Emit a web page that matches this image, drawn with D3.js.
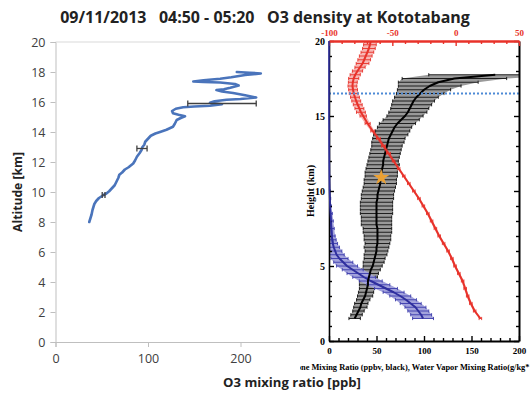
<!DOCTYPE html>
<html><head><meta charset="utf-8">
<script src="https://cdn.jsdelivr.net/npm/d3@7"></script>
<style>body{margin:0;background:#fff} svg{display:block}</style>
</head><body><svg id="c" width="530" height="393"></svg>
<script>
// ---------- DATA ----------
const title = "09/11/2013   04:50 - 05:20   O3 density at Kototabang";
const leftXLabel = "O3 mixing ratio [ppb]";
const leftYLabel = "Altitude [km]";
const leftXTicks = [0, 100, 200, 300];
const leftYTicks = [0, 2, 4, 6, 8, 10, 12, 14, 16, 18, 20];

// Left panel ozone profile (ppb, km) in drawing order
const o3Ppb = [36.5,37.5,39,40,41,42,44,47,52,55,58,61,64,66,68,69,72,75,79,84,86,88,91,93,94,96,97,100,103,108,113,120,127,129,131,136,140,133,127,126,130,138,150,167,180,167,172,185,200,217,205,192,180,174,182,189,198,194,178,160,149,160,178,190,205,222,210,196];
const o3Alt = [8.0,8.2,8.5,8.8,9.0,9.2,9.4,9.6,9.8,9.9,10.05,10.25,10.45,10.7,10.95,11.15,11.3,11.5,11.65,11.9,12.1,12.35,12.6,12.8,13.0,13.15,13.35,13.55,13.75,13.9,14.0,14.15,14.35,14.55,14.8,14.95,15.05,15.15,15.25,15.4,15.55,15.65,15.7,15.75,15.85,15.95,16.05,16.15,16.2,16.3,16.45,16.6,16.7,16.8,16.85,16.95,17.1,17.2,17.3,17.33,17.37,17.45,17.55,17.65,17.8,17.9,17.95,18.0];
// left panel error bars
const ebPpb = [52, 93.5, 180];
const ebAlt = [9.8, 12.9, 15.9];
const ebHalf = [1.5, 5.5, 37];

// Right panel
const rightYTicks = [0, 5, 10, 15, 20];
const rightBottomTicks = [0, 50, 100, 150, 200];
const rightTopTicks = [-100, -50, 0, 50];
const rightYLabel = "Height (km)";
const rightXLabel = "Ozone Mixing Ratio (ppbv, black), Water Vapor Mixing Ratio(g/kg*10, blue), Temperature (C, red)";

const ozAlt = [1.5,1.75,2,2.25,2.5,2.75,3,3.25,3.5,3.75,4,4.25,4.5,4.75,5,5.25,5.5,5.75,6,6.25,6.5,6.75,7,7.25,7.5,7.75,8,8.25,8.5,8.75,9,9.25,9.5,9.75,10,10.25,10.5,10.75,11,11.25,11.5,11.75,12,12.25,12.5,12.75,13,13.25,13.5,13.75,14,14.25,14.5,14.75,15,15.25,15.5,15.75,16,16.25,16.5,16.75,17,17.25,17.5,17.75];
const ozMean = [27,29,31,33,34,36,38,39,40,41,41,42,43,44,46,47,48,49,50,50,51,51,51,51,51,50,50,50,50,50,50,50,51,51,52,53,54,54,55,55,56,57,57,58,59,60,61,62,63,65,67,69,72,76,80,83,85,87,89,92,96,100,106,115,132,175];
const ozErr = [6,6,6,7,7,7,8,8,8,9,9,9,9,10,10,11,11,12,12,13,13,14,14,15,15,16,16,16,17,17,17,17,17,17,17,17,17,17,17,17,17,17,16,16,16,16,16,17,17,18,18,18,19,19,19,20,20,21,22,23,25,28,33,42,55,70];

const wvAlt = [1.5,1.75,2,2.25,2.5,2.75,3,3.25,3.5,3.75,4,4.25,4.5,4.75,5,5.25,5.5,5.75,6,6.25,6.5,6.75,7,7.5,8,8.5,9,9.5,10,11,12,13,14,15,16,17,18,19,20];
const wvMean = [99,97,94,91,86,81,75,68,60,52,44,37,31,25,19,15,11,8,6.5,5,4,3.5,3,2.5,2,1.5,1,0.8,0.5,0.3,0.2,0.1,0.1,0,0,0,0,0,0];
const wvErr = [11,11,11,11,11,11,11,11,12,12,12,12,12,11,11,10,9,8,7,6,5,4,3.5,3,2.5,2,1.5,1,0.8,0.5,0.3,0.2,0.2,0,0,0,0,0,0];

const tAlt = [1.5,2,2.5,3,3.5,4,4.5,5,5.5,6,6.5,7,7.5,8,8.5,9,9.5,10,10.5,11,11.5,12,12.5,13,13.5,14,14.5,15,15.25,15.5,15.75,16,16.25,16.5,16.75,17,17.25,17.5,17.75,18,18.25,18.5,18.75,19,19.25,19.5,19.75,20];
const tMean = [19.5,15,12,9.5,7.5,5.5,2.5,-0.5,-3,-6,-9.5,-13,-16,-19,-22,-25.5,-29,-33,-37,-41,-45,-49,-53,-57,-61,-65.5,-69.5,-73,-74.8,-76,-77.3,-78.5,-79.5,-80.5,-81,-81.5,-81.2,-80.5,-79.3,-77.5,-75.5,-73.5,-72.2,-71,-69.7,-68.5,-67.7,-67];
const tErr = [1,1,1,1,1,1,1,1,1,1,1,1,1,1,1,1,1,1,1,1,1,1,1.5,1.5,1.5,1.5,2,2.5,3.5,3.5,3.5,3.5,3.5,3.5,3.5,3.5,3.5,4,4,4,4,5,5,5,5,5,5,5];

const tropopauseAlt = [16.5];
const starOzone = [55];
const starAlt = [10.9];

// ---------- DRAW ----------
const svg = d3.select("#c");
function fit(sel, target) {
  const w = sel.node().getComputedTextLength();
  const fs = parseFloat(sel.attr("font-size"));
  sel.attr("font-size", fs * target / w);
}

// Left panel
const xL = d3.scaleLinear().domain([0, 300]).range([55.5, 333]);
const yL = d3.scaleLinear().domain([0, 20]).range([342, 42]);
const sans = "'Open Sans', 'Liberation Sans', sans-serif";

const gL = svg.append("g");
gL.append("line").attr("x1", xL(0)).attr("x2", xL(300)).attr("y1", yL(20)).attr("y2", yL(20))
  .attr("stroke", "#d9d9d9").attr("stroke-width", 1);

const axL = gL.append("g").attr("transform", `translate(${xL(0)},0)`)
  .call(d3.axisLeft(yL).tickValues(leftYTicks).tickSize(5).tickPadding(5));
const axB = gL.append("g").attr("transform", `translate(0,${yL(0)})`)
  .call(d3.axisBottom(xL).tickValues(leftXTicks).tickSize(5).tickPadding(7));
[axL, axB].forEach(a => {
  a.select(".domain").attr("stroke", "#bfbfbf");
  a.selectAll(".tick line").attr("stroke", "#bfbfbf");
  a.selectAll("text").attr("font-family", sans).attr("font-size", 12.5).attr("fill", "#404040");
});

const ptsL = o3Ppb.map((v, i) => [v, o3Alt[i]]);
gL.append("path").datum(ptsL)
  .attr("d", d3.line().x(d => xL(d[0])).y(d => yL(d[1])))
  .attr("fill", "none").attr("stroke", "#4a74bb").attr("stroke-width", 2.6)
  .attr("stroke-linejoin", "round").attr("stroke-linecap", "round");

const ebG = gL.append("g").attr("stroke", "#404040").attr("stroke-width", 1.3);
ebPpb.forEach((v, i) => {
  const y = yL(ebAlt[i]), x0 = xL(v - ebHalf[i]), x1 = xL(v + ebHalf[i]);
  ebG.append("line").attr("x1", x0).attr("x2", x1).attr("y1", y).attr("y2", y);
  ebG.append("line").attr("x1", x0).attr("x2", x0).attr("y1", y - 3).attr("y2", y + 3);
  ebG.append("line").attr("x1", x1).attr("x2", x1).attr("y1", y - 3).attr("y2", y + 3);
});

gL.append("text").attr("transform", `translate(18,${yL(10)}) rotate(-90)`)
  .attr("text-anchor", "middle").attr("dy", "0.35em")
  .attr("font-family", sans).attr("font-weight", 700).attr("font-size", 12.5).attr("fill", "#222")
  .text(leftYLabel).call(s => fit(s, 80));

const xlab = svg.append("text").attr("x", 292).attr("y", 387)
  .attr("text-anchor", "middle")
  .attr("font-family", sans).attr("font-weight", 700).attr("font-size", 13).attr("fill", "#222")
  .text(leftXLabel);
fit(xlab, 138);

const tt = svg.append("text").attr("x", 265).attr("y", 23).attr("text-anchor", "middle")
  .attr("font-family", sans).attr("font-weight", 700).attr("font-size", 16).attr("fill", "#222")
  .style("white-space", "pre").text(title);
fit(tt, 410);

// Right panel (overlay image)
const gR = svg.append("g");
gR.append("rect").attr("x", 300).attr("y", 27).attr("width", 230).attr("height", 346).attr("fill", "#fff");

const xR = d3.scaleLinear().domain([0, 200]).range([329, 519]);
const xT = d3.scaleLinear().domain([-100, 50]).range([329, 519]);
const yR = d3.scaleLinear().domain([0, 20]).range([341, 41]);
const serif = "'Liberation Serif', 'DejaVu Serif', serif";

svg.append("clipPath").attr("id", "cp").append("rect")
  .attr("x", 329).attr("y", 41).attr("width", 190).attr("height", 300);
const plot = gR.append("g").attr("clip-path", "url(#cp)");

function errBand(g, alt, mean, err, sx, fill, stroke, cap) {
  const d = alt.map((a, i) => ({a, m: mean[i], e: err[i]}));
  g.append("path").datum(d)
    .attr("d", d3.area().y(p => yR(p.a)).x0(p => sx(p.m - p.e)).x1(p => sx(p.m + p.e)))
    .attr("fill", fill);
  const bg = g.append("g").attr("stroke", stroke).attr("stroke-width", 0.9);
  d.forEach(p => {
    if (p.e <= 0) return;
    const y = yR(p.a), x0 = sx(p.m - p.e), x1 = sx(p.m + p.e);
    bg.append("line").attr("x1", x0).attr("x2", x1).attr("y1", y).attr("y2", y);
    bg.append("line").attr("x1", x0).attr("x2", x0).attr("y1", y - cap).attr("y2", y + cap);
    bg.append("line").attr("x1", x1).attr("x2", x1).attr("y1", y - cap).attr("y2", y + cap);
  });
  return d;
}
function profile(g, alt, mean, sx, color, w) {
  g.append("path").datum(alt.map((a, i) => [mean[i], a]))
    .attr("d", d3.line().x(p => sx(p[0])).y(p => yR(p[1])))
    .attr("fill", "none").attr("stroke", color).attr("stroke-width", w).attr("stroke-linejoin", "round");
}

errBand(plot, ozAlt, ozMean, ozErr, xR, "#9a9a9a", "#111", 1.6);
errBand(plot, wvAlt, wvMean, wvErr, xR, "#a3a3dc", "#3b3bab", 1.6);
profile(plot, wvAlt, wvMean, xR, "#2e2e9e", 2);
profile(plot, ozAlt, ozMean, xR, "#000", 2);
errBand(plot, tAlt, tMean, tErr, xT, "rgba(232,50,42,0.35)", "#e8322a", 1.6);
profile(plot, tAlt, tMean, xT, "#e8322a", 2);

plot.selectAll(".trop").data(tropopauseAlt).join("line")
  .attr("x1", xR(0)).attr("x2", xR(200)).attr("y1", d => yR(d)).attr("y2", d => yR(d))
  .attr("stroke", "#4d8ad6").attr("stroke-width", 2).attr("stroke-dasharray", "2,2");

plot.selectAll(".star").data(starOzone).join("path")
  .attr("transform", (d, i) => `translate(${xR(d)},${yR(starAlt[i])})`)
  .attr("d", d3.symbol(d3.symbolStar, 80)())
  .attr("fill", "#eba134");

// axes
function styleAx(a, color, w) {
  a.select(".domain").attr("stroke", color).attr("stroke-width", w);
  a.selectAll(".tick line").attr("stroke", "#000").attr("stroke-width", 1.4);
  a.selectAll("text").attr("font-family", serif).attr("font-weight", 700).attr("font-size", 10).attr("fill", "#000");
}
const km = d3.range(0, 21);
const rl = gR.append("g").attr("transform", `translate(${xR(0)},0)`)
  .call(d3.axisLeft(yR).tickValues(km).tickSizeInner(-3).tickSizeOuter(0).tickPadding(4)
    .tickFormat(d => rightYTicks.includes(d) ? d : ""));
styleAx(rl, "#000", 1.6);
rl.selectAll(".tick").filter(d => d % 5 === 0).select("line").attr("x2", 5);

const rr = gR.append("g").attr("transform", `translate(${xR(200)},0)`)
  .call(d3.axisRight(yR).tickValues(km).tickSizeInner(-3).tickSizeOuter(0).tickFormat(""));
styleAx(rr, "#000", 2);
rr.selectAll(".tick").filter(d => d % 5 === 0).select("line").attr("x2", -5);

const rb = gR.append("g").attr("transform", `translate(0,${yR(0)})`)
  .call(d3.axisBottom(xR).tickValues(d3.range(0, 201, 10)).tickSizeInner(-3).tickSizeOuter(0).tickPadding(7)
    .tickFormat(d => rightBottomTicks.includes(d) ? d : ""));
styleAx(rb, "#000", 2);
rb.selectAll("text").attr("font-size", 9);
rb.selectAll(".tick").filter(d => d % 50 === 0).select("line").attr("y2", -5);

const rt = gR.append("g").attr("transform", `translate(0,${yR(20)})`)
  .call(d3.axisTop(xT).tickValues(d3.range(-100, 51, 10)).tickSizeInner(-3).tickSizeOuter(0).tickPadding(5)
    .tickFormat(d => rightTopTicks.includes(d) ? d : ""));
styleAx(rt, "#e8322a", 2.5);
rt.selectAll(".tick line").attr("stroke", "#e8322a");
rt.selectAll("text").attr("fill", "#e8322a").attr("font-size", 9);
rt.selectAll(".tick").filter(d => d % 50 === 0).select("line").attr("y2", 5);

// vapour profile near zero lies over the left axis
profile(gR, wvAlt.slice(20), wvMean.slice(20), xR, "#2e2e9e", 1.6);

gR.append("text").attr("transform", `translate(310,${yR(10)}) rotate(-90)`)
  .attr("text-anchor", "middle").attr("dy", "0.35em")
  .attr("font-family", serif).attr("font-weight", 700).attr("font-size", 10).attr("fill", "#000")
  .text(rightYLabel);

// bottom label, cut at the panel edges as in the reference
svg.append("clipPath").attr("id", "cpx").append("rect")
  .attr("x", 300).attr("y", 360).attr("width", 230).attr("height", 16);
const tmp = svg.append("text").attr("font-family", serif).attr("font-weight", 700).attr("font-size", 10)
  .text("ne Mixing Ratio (ppbv, black), Water Vapor Mixing Ratio(g/kg*");
const fsx = 10 * 229 / tmp.node().getComputedTextLength();
tmp.attr("font-size", fsx).text("Ozo");
const pre = tmp.node().getComputedTextLength();
tmp.remove();
gR.append("text").attr("clip-path", "url(#cpx)")
  .attr("x", 301 - pre).attr("y", 370)
  .attr("font-family", serif).attr("font-weight", 700).attr("font-size", fsx).attr("fill", "#000")
  .text(rightXLabel);
</script>
</body></html>
